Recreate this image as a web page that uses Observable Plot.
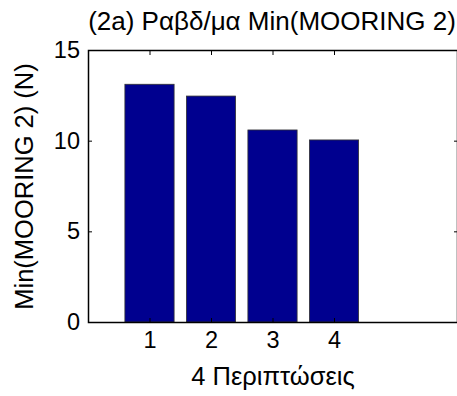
<!DOCTYPE html>
<html>
<head>
<meta charset="utf-8">
<script src="https://cdn.jsdelivr.net/npm/d3@7"></script>
<script src="https://cdn.jsdelivr.net/npm/@observablehq/plot@0.6"></script>
<style>
  html, body { margin: 0; padding: 0; background: #fff; }
</style>
</head>
<body>
<div id="chart"></div>
<script>
const cases = [1, 2, 3, 4];
const values = [13.11, 12.46, 10.59, 10.04];
const xTicks = [1, 2, 3, 4];
const yTicks = [0, 5, 10, 15];
const titleText = "(2a) Ραβδ/μα Min(MOORING 2)";
const xLabel = "4 Περιπτώσεις";
const yLabel = "Min(MOORING 2) (N)";

const data = cases.map((c, i) => ({c, v: values[i]}));
const font = "'Liberation Sans', Arial, sans-serif";
const fsTick = 23.5;
const fsLabel = 25.5;
const fsTitle = 26;

const chart = Plot.plot({
  width: 457,
  height: 396,
  marginTop: 50,
  marginBottom: 74,
  marginLeft: 88,
  marginRight: 0,
  style: {fontFamily: font, fontSize: fsTick + "px", color: "#000", background: "#fff"},
  x: {type: "linear", domain: [0, 6]},
  y: {domain: [0, 15]},
  marks: [
    Plot.rectY(data, {x1: d => d.c - 0.4, x2: d => d.c + 0.4, y1: 0, y2: "v", fill: "#00008F", stroke: "#333", strokeWidth: 0.8}),
    Plot.frame({stroke: "#000", strokeWidth: 1.5}),
    // labels
    Plot.axisX({anchor: "bottom", ticks: xTicks, tickSize: 0, tickPadding: 9, tickFormat: d => String(d), label: null, fontSize: fsTick}),
    Plot.axisY({anchor: "left", ticks: yTicks, tickSize: 0, tickPadding: 8.5, tickFormat: d => String(d), label: null, fontSize: fsTick}),
    // inward ticks
    Plot.axisX({anchor: "bottom", ticks: xTicks, tickSize: -4, text: null, label: null}),
    Plot.axisX({anchor: "top", ticks: xTicks, tickSize: -4, text: null, label: null}),
    Plot.axisY({anchor: "left", ticks: yTicks, tickSize: -4, text: null, label: null}),
    Plot.axisY({anchor: "right", ticks: yTicks, tickSize: -4, text: null, label: null}),
    // titles
    Plot.text([titleText], {frameAnchor: "top", textAnchor: "middle", lineAnchor: "middle", dx: -1, dy: -29, fontSize: fsTitle, fill: "#000"}),
    Plot.text([xLabel], {frameAnchor: "bottom", textAnchor: "middle", lineAnchor: "middle", dy: 54.5, fontSize: fsLabel, fill: "#000"}),
    Plot.text([yLabel], {frameAnchor: "left", textAnchor: "middle", lineAnchor: "middle", dx: -64, rotate: -90, fontSize: fsLabel, fill: "#000"})
  ]
});
document.getElementById("chart").appendChild(chart);
</script>
</body>
</html>
